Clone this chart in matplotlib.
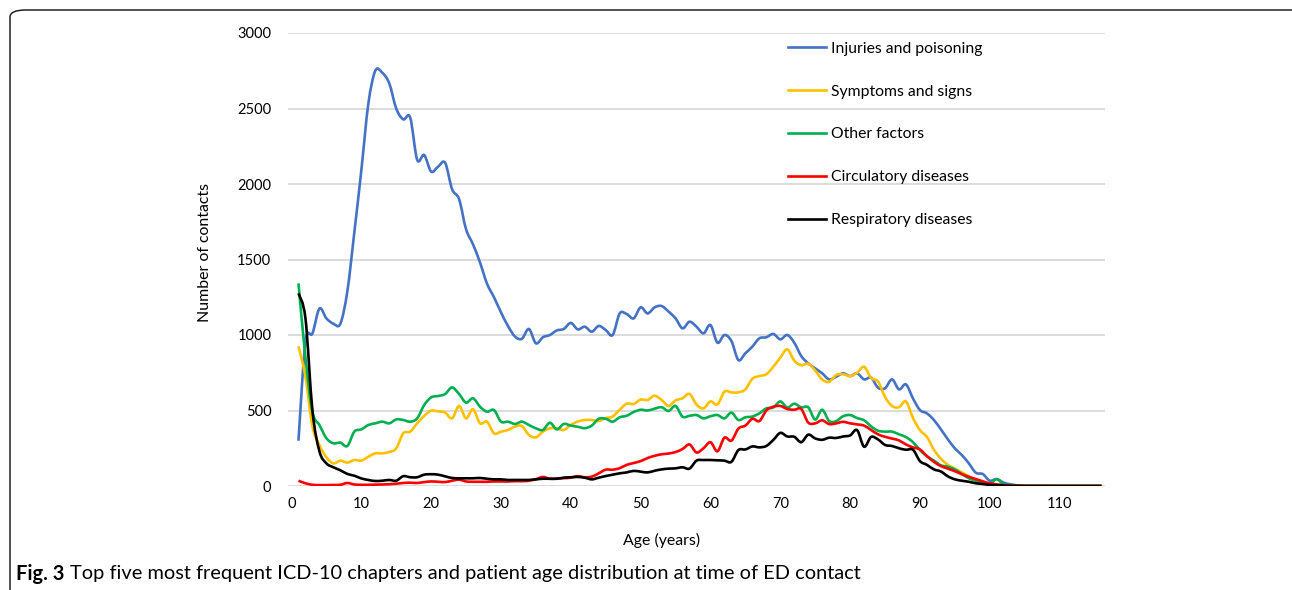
import matplotlib
matplotlib.use("Agg")
import matplotlib.pyplot as plt
from matplotlib.patches import FancyBboxPatch, PathPatch
from matplotlib.path import Path
from matplotlib.lines import Line2D

plt.rcParams["font.family"] = ["Lato", "DejaVu Sans"]

# ages 1..116, values
ages = list(range(1, 117))

injuries = [
    300, 955, 1010, 1175, 1110, 1075, 1075, 1290, 1680, 2090,
    2530, 2750, 2737, 2667, 2500, 2428, 2440, 2160, 2192, 2082,
    2115, 2141, 1965, 1900, 1700, 1600, 1480, 1340, 1250, 1150,
    1060, 990, 975, 1040, 945, 985, 1000, 1030, 1040, 1080,
    1037, 1055, 1022, 1060, 1033, 1000, 1143, 1139, 1110, 1183,
    1143, 1183, 1192, 1155, 1110, 1044, 1088, 1055, 1011, 1066,
    949, 1000, 960, 834, 879, 923, 978, 985, 1007, 971,
    1000, 949, 861, 812, 779, 746, 706, 724, 746, 728,
    746, 706, 717, 651, 647, 706, 640, 673, 580, 503,
    481, 437, 375, 309, 249, 205, 150, 88, 79, 35,
    46, 22, 11, 4, 2, 1, 1, 1, 0, 0,
    0, 0, 0, 0, 0, 0,
]

symptoms = [
    925, 724, 393, 271, 190, 150, 168, 155, 172, 168,
    194, 216, 216, 225, 249, 349, 360, 415, 464, 499,
    494, 486, 448, 530, 448, 508, 415, 426, 349, 360,
    371, 393, 397, 338, 322, 360, 382, 382, 371, 405,
    427, 437, 437, 430, 450, 460, 505, 545, 543, 572,
    570, 598, 570, 530, 567, 581, 610, 540, 514, 560,
    540, 625, 620, 620, 640, 710, 728, 740, 790, 850,
    905, 830, 800, 810, 765, 705, 690, 735, 740, 728,
    750, 790, 715, 692, 590, 530, 522, 560, 450, 370,
    325, 240, 180, 140, 115, 90, 64, 37, 20, 10,
    5, 3, 1, 1, 0, 0, 0, 0, 0, 0,
    0, 0, 0, 0, 0, 0,
]

other = [
    1342, 850, 490, 404, 316, 283, 287, 265, 360, 375,
    404, 415, 426, 415, 441, 437, 426, 448, 536, 587,
    596, 609, 653, 609, 552, 581, 525, 492, 503, 426,
    426, 411, 426, 404, 382, 371, 419, 375, 411, 400,
    392, 383, 400, 445, 445, 426, 455, 465, 490, 505,
    500, 512, 522, 497, 530, 459, 465, 470, 448, 462,
    470, 448, 486, 437, 455, 460, 481, 514, 520, 560,
    520, 545, 521, 521, 440, 505, 430, 430, 462, 470,
    450, 435, 395, 366, 360, 360, 342, 324, 290, 238,
    197, 168, 137, 128, 109, 80, 51, 35, 20, 13,
    45, 10, 3, 1, 0, 0, 0, 0, 0, 0,
    0, 0, 0, 0, 0, 0,
]

circulatory = [
    35, 18, 8, 6, 6, 7, 8, 20, 10, 8,
    8, 9, 10, 12, 15, 20, 22, 20, 26, 30,
    28, 26, 35, 42, 30, 28, 28, 28, 30, 30,
    30, 32, 32, 35, 45, 60, 48, 50, 52, 55,
    65, 58, 62, 84, 108, 108, 118, 140, 152, 165,
    185, 200, 210, 215, 225, 245, 275, 222, 250, 290,
    230, 320, 300, 380, 400, 445, 430, 500, 525, 530,
    510, 505, 510, 420, 415, 435, 410, 415, 425, 415,
    408, 400, 371, 342, 326, 314, 302, 275, 256, 242,
    198, 160, 132, 115, 98, 78, 61, 46, 31, 17,
    11, 5, 2, 1, 0, 0, 0, 0, 0, 0,
    0, 0, 0, 0, 0, 0,
]

respiratory = [
    1276, 1110, 500, 230, 150, 124, 104, 80, 68, 50,
    40, 33, 35, 40, 35, 65, 58, 58, 75, 78,
    75, 64, 53, 51, 51, 51, 53, 48, 44, 44,
    40, 40, 40, 40, 44, 48, 48, 48, 55, 58,
    60, 55, 44, 55, 66, 75, 84, 90, 100, 95,
    90, 101, 110, 115, 117, 124, 115, 168, 172, 172,
    170, 168, 160, 238, 242, 262, 256, 265, 305, 352,
    328, 326, 290, 340, 315, 306, 320, 318, 328, 335,
    370, 260, 325, 308, 272, 265, 250, 240, 240, 165,
    140, 110, 96, 64, 44, 35, 28, 18, 13, 7,
    5, 3, 1, 1, 0, 0, 0, 0, 0, 0,
    0, 0, 0, 0, 0, 0,
]

series = [
    ("Injuries and poisoning", injuries, "#4472C4"),
    ("Symptoms and signs", symptoms, "#FFC000"),
    ("Other factors", other, "#00B050"),
    ("Circulatory diseases", circulatory, "#FF0000"),
    ("Respiratory diseases", respiratory, "#000000"),
]


def smooth_path(x, y):
    # Excel-style smoothed line: cubic bezier through every data point
    n = len(x)
    verts = [(x[0], y[0])]
    codes = [Path.MOVETO]
    for i in range(n - 1):
        x0, y0 = (x[i - 1], y[i - 1]) if i > 0 else (x[i], y[i])
        x3, y3 = (x[i + 2], y[i + 2]) if i + 2 < n else (x[i + 1], y[i + 1])
        c1 = (x[i] + (x[i + 1] - x0) / 6, y[i] + (y[i + 1] - y0) / 6)
        c2 = (x[i + 1] - (x3 - x[i]) / 6, y[i + 1] - (y3 - y[i]) / 6)
        verts += [c1, c2, (x[i + 1], y[i + 1])]
        codes += [Path.CURVE4] * 3
    return Path(verts, codes)


W, H = 1292, 590
fig = plt.figure(figsize=(W / 100, H / 100), dpi=100)

# rounded frame around the whole figure panel
frame = FancyBboxPatch((10 / W, -0.2), 1.2, 1.2 - 10 / H,
                       boxstyle="round,pad=0,rounding_size=0.012",
                       transform=fig.transFigure, fill=False,
                       edgecolor="#222222", linewidth=1.1, clip_on=False)
fig.patches.append(frame)

ax = fig.add_axes([288 / W, 1 - 486 / H, (1105 - 288) / W, (486 - 33) / H])

handles = []
for name, vals, col in series:
    ax.add_patch(PathPatch(smooth_path(ages, vals), fill=False, edgecolor=col,
                           lw=1.9, joinstyle="round", capstyle="butt"))
    handles.append(Line2D([], [], color=col, lw=1.9, label=name))

ax.set_xlim(-0.5, 116.5)
ax.set_ylim(0, 3000)
ax.set_xticks(range(0, 111, 10))
ax.set_yticks(range(0, 3001, 500))
ax.grid(axis="y", color="#D9D9D9", lw=1.3)
ax.set_axisbelow(True)
for s in ax.spines.values():
    s.set_visible(False)
ax.tick_params(length=0, labelsize=10.5, colors="#000000")
ax.tick_params(axis="y", pad=12)
ax.tick_params(axis="x", pad=8)

leg = ax.legend(handles=handles, loc="upper left", bbox_to_anchor=(0.598, 1.005),
                frameon=False, fontsize=11.3, handlelength=2.45,
                handletextpad=0.35, labelspacing=1.84, borderaxespad=0.3)

fig.text(205 / W, 1 - 253 / H, "Number of contacts", rotation=90,
         ha="center", va="center", fontsize=11.4)
fig.text(662 / W, 1 - 540 / H, "Age (years)", ha="center", va="center",
         fontsize=11.4)

t1 = fig.text(16 / W, 1 - 574 / H, "Fig. 3", ha="left", va="center",
              fontsize=14.4, fontweight="bold")
fig.canvas.draw()
bb = t1.get_window_extent(fig.canvas.get_renderer())
fig.text(bb.x1 / W + 5 / W, 1 - 574 / H,
         "Top five most frequent ICD-10 chapters and patient age distribution at time of ED contact",
         ha="left", va="center", fontsize=14.4)

fig.savefig("out.png", dpi=100)
